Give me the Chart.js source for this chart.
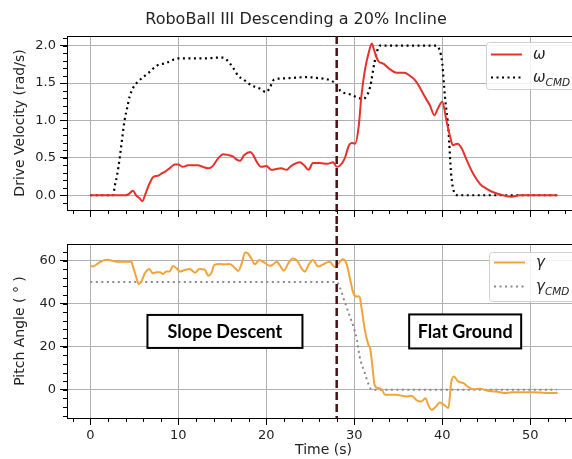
<!DOCTYPE html>
<html>
<head>
<meta charset="utf-8">
<script src="https://cdn.jsdelivr.net/npm/chart.js@4"></script>
<style>
html, body { margin: 0; padding: 0; background: #fff; overflow: hidden; width: 572px; height: 459px; }
canvas { position: absolute; left: 0; }
#velChart { top: 0; }
#pitchChart { top: 226px; }
</style>
</head>
<body>
<canvas id="velChart" width="580" height="226"></canvas>
<canvas id="pitchChart" width="580" height="233"></canvas>
<script>
// Data
const omegaT = [0, 3.9, 4.3, 4.85, 5.2, 5.6, 5.9, 6.3, 6.74, 7.2, 7.7, 8.07, 8.56, 9.0, 9.6, 10, 10.5, 11.1, 11.7, 12.2,
    12.8, 13.4, 13.9, 14.5, 15.1, 15.6, 16.2, 16.6, 17.0, 17.5, 18.2, 18.5, 18.9, 19.4, 20.0, 20.6, 21.1, 21.7, 22.3, 22.8,
    23.8, 24.3, 24.8, 25.3, 26.1, 26.9, 27.6, 28.0, 28.4, 28.9, 29.4, 29.7, 30.1, 30.5, 30.8, 31.2, 31.6, 32.0, 32.2, 32.7,
    33.3, 34.0, 34.8, 35.7, 36.3, 36.9, 37.4, 38.0, 38.6, 39.1, 39.5, 40.0, 40.5, 40.9, 41.2, 41.7, 42.2, 42.7, 43.5, 44.3,
    45.0, 45.8, 46.9, 47.9, 48.8, 50.3, 53.1];
const omegaV = [0, 0, 0.01, 0.06, 0.0, -0.04, -0.08, 0.03, 0.16, 0.25, 0.26, 0.29, 0.32, 0.36, 0.41, 0.41, 0.38, 0.40, 0.40, 0.40,
    0.38, 0.36, 0.39, 0.49, 0.55, 0.54, 0.52, 0.48, 0.46, 0.54, 0.58, 0.54, 0.45, 0.38, 0.39, 0.34, 0.35, 0.36, 0.34, 0.39,
    0.44, 0.40, 0.34, 0.43, 0.43, 0.42, 0.44, 0.38, 0.40, 0.49, 0.67, 0.70, 0.69, 0.92, 1.32, 1.67, 1.89, 2.03, 1.96, 1.80,
    1.76, 1.69, 1.64, 1.64, 1.60, 1.54, 1.45, 1.32, 1.20, 1.07, 1.16, 1.25, 0.98, 0.78, 0.67, 0.69, 0.63, 0.49, 0.29, 0.15,
    0.09, 0.04, 0, -0.02, 0, 0, 0];
const omegaCmdT = [0, 2.6, 2.77, 3.03, 3.33, 3.64, 3.9, 4.17, 4.47, 4.92, 5.42, 6.0, 6.74, 7.5, 8.64, 10, 11.7, 13.2, 14.3, 15.1,
    15.6, 16.2, 16.8, 17.5, 18.3, 19.2, 20.0, 20.4, 20.9, 21.5, 23.0, 24.5, 25.7, 27.2, 27.9, 28.4, 29.5, 31.0, 31.8, 32.3,
    32.9, 35.2, 39.3, 39.7, 40.0, 40.3, 40.7, 41.0, 41.4, 41.8, 53.1];
const omegaCmdV = [0, 0, 0.12, 0.26, 0.49, 0.78, 1.01, 1.16, 1.32, 1.45, 1.52, 1.58, 1.65, 1.73, 1.77, 1.83, 1.83, 1.83, 1.84, 1.84,
    1.80, 1.71, 1.60, 1.54, 1.47, 1.43, 1.38, 1.44, 1.55, 1.56, 1.57, 1.58, 1.57, 1.54, 1.49, 1.40, 1.35, 1.29, 1.45, 1.78,
    2.0, 2.0, 2.0, 1.94, 1.76, 1.32, 0.87, 0.29, 0.03, 0, 0];
const gammaT = [0, 0.3, 0.87, 1.44, 2.0, 2.6, 3.1, 3.7, 4.3, 4.66, 4.85, 5.2, 5.5, 5.8, 6.2, 6.7, 7.1, 7.5, 7.9, 8.3,
    8.6, 9.0, 9.4, 9.8, 10.2, 10.7, 11.3, 11.9, 12.4, 13.0, 13.4, 13.75, 14.1, 14.7, 15.3, 15.8, 16.2, 16.8, 17.2, 17.6,
    17.9, 18.3, 18.7, 19.2, 19.8, 20.4, 20.8, 21.2, 21.5, 22.0, 22.5, 23.0, 23.5, 24.0, 24.4, 24.8, 25.3, 25.9, 26.5, 27.2,
    27.8, 28.2, 28.7, 29.1, 29.5, 29.9, 30.3, 30.6, 30.8, 31.2, 31.6, 31.8, 32.1, 32.3, 32.7, 33.1, 33.5, 34.0, 34.8, 35.4,
    35.9, 36.5, 37.1, 37.6, 38.1, 38.4, 38.8, 39.3, 39.7, 40.3, 40.7, 41.0, 41.3, 41.8, 42.4, 42.9, 43.5, 44.3, 45.0, 46.1,
    47.3, 48.0, 49.2, 50.3, 51.8, 53.1];
const gammaV = [57.6, 57.2, 58.7, 60, 60.4, 59.8, 59.4, 59.4, 59.4, 59.5, 57.2, 52.5, 49.1, 50.2, 54.1, 56.1, 54.1, 54.6, 54.6, 53.8,
    54.9, 54.9, 57.5, 56.4, 54.9, 55.6, 56.1, 54.4, 56.1, 55.9, 53.0, 54.1, 58.0, 58.4, 58.3, 58.4, 57.5, 55.2, 58.7, 63.8,
    63.4, 61.0, 58.3, 60.3, 59.0, 57.6, 58.3, 59.5, 58.0, 55.3, 58.7, 61.0, 60.0, 56.4, 54.9, 58.0, 60.3, 57.2, 58.3, 59.5,
    56.9, 58.7, 60.6, 58.7, 51.8, 44.8, 43.3, 43.3, 38.6, 27.8, 20.9, 19.3, 9.3, 2.3, 0.8, 0.3, -2.3, -2.3, -2.3, -2.8,
    -3.1, -2.8, -4.9, -5.4, -3.9, -7.0, -9.3, -7.7, -5.9, -7.3, -8.5, 3.1, 6.2, 3.9, 3.1, 1.5, 0.3, 0.5, -0.3, -0.8,
    -1.5, -1.1, -1.2, -1.1, -1.5, -1.5];
const gammaCmdT = [0, 28.0, 28.4, 28.9, 29.5, 29.9, 30.3, 30.6, 31.2, 31.6, 32.0, 53.0];
const gammaCmdV = [50, 50, 47.1, 41, 34, 29.4, 23.2, 15.5, 7.7, 2.8, 0, 0];

const xTicks = [0, 10, 20, 30, 40, 50];
const velTicks = [0, 0.5, 1.0, 1.5, 2.0];
const pitchTicks = [0, 20, 40, 60];
const transitionT = 28;
const titleText = 'RoboBall III Descending a 20% Incline';

const FONT = "'DejaVu Sans', sans-serif";
Chart.defaults.font.family = FONT;
Chart.defaults.font.size = 13;
Chart.defaults.color = '#222';
Chart.defaults.animation = false;

const pts = (t, v) => t.map((x, i) => ({ x, y: v[i] }));

// Frame around plot area (matplotlib spines)
const frame = {
    id: 'frame',
    afterDatasetsDraw(chart) {
        const { ctx, chartArea: a } = chart;
        ctx.save();
        ctx.strokeStyle = '#000'; ctx.lineWidth = 1;
        ctx.strokeRect(Math.round(a.left) + 0.5, Math.round(a.top) + 0.5, Math.round(a.right - a.left), Math.round(a.bottom - a.top));
        ctx.restore();
    }
};

// Minor ticks
const minorTicks = {
    id: 'minorTicks',
    afterDraw(chart, args, o) {
        const { ctx, chartArea: a, scales: { x, y } } = chart;
        ctx.save();
        ctx.strokeStyle = '#000'; ctx.lineWidth = 1;
        ctx.beginPath();
        for (let i = Math.ceil(x.min / o.x); i * o.x <= x.max; i++) {
            const px = Math.round(x.getPixelForValue(i * o.x)) + 0.5;
            ctx.moveTo(px, a.bottom); ctx.lineTo(px, a.bottom + 4);
        }
        for (let i = Math.ceil(y.min / o.y); i * o.y <= y.max; i++) {
            const py = Math.round(y.getPixelForValue(i * o.y)) + 0.5;
            ctx.moveTo(a.left, py); ctx.lineTo(a.left - 4, py);
        }
        ctx.stroke();
        ctx.restore();
    }
};

// Transition marker
const transition = {
    id: 'transition',
    afterDatasetsDraw(chart, args, o) {
        const { ctx, chartArea: a, scales: { x } } = chart;
        const px = x.getPixelForValue(transitionT);
        ctx.save();
        ctx.strokeStyle = '#4a1212'; ctx.lineWidth = 2.5;
        ctx.setLineDash([8, 4]);
        ctx.lineDashOffset = o.dashOffset || 0;
        ctx.beginPath();
        ctx.moveTo(px, o.top === 'canvas' ? 0 : a.top);
        ctx.lineTo(px, o.bottom === 'canvas' ? chart.height : a.bottom);
        ctx.stroke();
        ctx.restore();
    }
};

// Legend with subscripts
const subLegend = {
    id: 'subLegend',
    afterDraw(chart, args, o) {
        const { ctx } = chart;
        const b = o.box;
        ctx.save();
        ctx.fillStyle = 'rgba(255,255,255,0.85)';
        ctx.strokeStyle = '#d0d0d0'; ctx.lineWidth = 1;
        ctx.beginPath();
        ctx.roundRect(b.x + 0.5, b.y + 0.5, b.w, b.h, 3);
        ctx.fill(); ctx.stroke();
        o.items.forEach(it => {
            ctx.strokeStyle = it.color; ctx.lineWidth = it.width;
            ctx.setLineDash(it.dash || []);
            ctx.beginPath();
            ctx.moveTo(b.x + 5, it.y); ctx.lineTo(b.x + 36, it.y);
            ctx.stroke();
            ctx.setLineDash([]);
            ctx.fillStyle = '#222';
            ctx.textBaseline = 'alphabetic';
            ctx.font = "italic 15px 'DejaVu Sans'";
            ctx.fillText(it.label, b.x + 47, it.y + 4);
            if (it.sub) {
                const w = ctx.measureText(it.label).width;
                ctx.font = "italic 10.5px 'DejaVu Sans'";
                ctx.fillText(it.sub, b.x + 47 + w, it.y + 8);
            }
        });
        ctx.restore();
    }
};

// Title drawn on the top panel
const figTitle = {
    id: 'figTitle',
    afterDraw(chart) {
        const { ctx } = chart;
        ctx.save();
        ctx.font = "16px 'DejaVu Sans'";
        ctx.fillStyle = '#222';
        ctx.textAlign = 'center'; ctx.textBaseline = 'middle';
        ctx.fillText(titleText, 296, 20);
        ctx.restore();
    }
};

// Region labels in boxes
const regionLabels = {
    id: 'regionLabels',
    afterDraw(chart, args, o) {
        const { ctx, scales: { x, y } } = chart;
        ctx.save();
        ctx.font = "bold 18px Lato, 'Open Sans', sans-serif";
        ctx.textAlign = 'center'; ctx.textBaseline = 'middle';
        o.items.forEach(it => {
            const cx = x.getPixelForValue(it.t), cy = y.getPixelForValue(it.v);
            ctx.fillStyle = '#fff';
            ctx.fillRect(cx - it.w / 2, cy - it.h / 2, it.w, it.h);
            ctx.strokeStyle = '#000'; ctx.lineWidth = 2;
            ctx.strokeRect(cx - it.w / 2, cy - it.h / 2, it.w, it.h);
            ctx.fillStyle = '#000';
            ctx.fillText(it.text, cx, cy + 1);
        });
        ctx.restore();
    }
};

function xScale(showLabels, height) {
    return {
        type: 'linear', min: -2.65, max: 55.65,
        afterBuildTicks: s => { s.ticks = xTicks.map(v => ({ value: v })); },
        afterFit: s => { s.height = height; },
        grid: { color: '#b0b0b0', lineWidth: 1, tickColor: '#000', tickLength: 7 },
        border: { display: false },
        ticks: { display: showLabels, padding: 3, maxRotation: 0, color: '#222' },
        title: { display: showLabels, text: 'Time (s)', font: { size: 14 }, padding: { top: 0, bottom: 0 }, color: '#222' }
    };
}

function yScale(min, max, ticks, label, fmt) {
    return {
        type: 'linear', min, max,
        afterBuildTicks: s => { s.ticks = ticks.map(v => ({ value: v })); },
        afterFit: s => { s.width = 67; },
        grid: { color: '#b0b0b0', lineWidth: 1, tickColor: '#000', tickLength: 7 },
        border: { display: false },
        ticks: { padding: 4, color: '#222', callback: fmt },
        title: { display: true, text: label, font: { size: 14 }, padding: { top: 12, bottom: 0 }, color: '#222' }
    };
}

new Chart(document.getElementById('velChart'), {
    type: 'line',
    data: {
        datasets: [
            { label: 'ω', data: pts(omegaT, omegaV), borderColor: '#e8302a', borderWidth: 2, pointRadius: 0, cubicInterpolationMode: 'monotone' },
            { label: 'ωCMD', data: pts(omegaCmdT, omegaCmdV), borderColor: '#000', borderWidth: 2.2, borderDash: [2, 3.5], pointRadius: 0, cubicInterpolationMode: 'monotone' }
        ]
    },
    options: {
        responsive: false,
        layout: { padding: { top: 36, left: 0, right: 0, bottom: 0 } },
        scales: {
            x: xScale(false, 16),
            y: yScale(-0.197, 2.13, velTicks, 'Drive Velocity (rad/s)', v => v.toFixed(1))
        },
        plugins: {
            legend: { display: false }, tooltip: { enabled: false },
            minorTicks: { x: 2, y: 0.1 },
            transition: { bottom: 'canvas' },
            subLegend: {
                box: { x: 486, y: 42, w: 120, h: 47 },
                items: [
                    { label: 'ω', color: '#e8302a', width: 2, y: 54.5 },
                    { label: 'ω', sub: 'CMD', color: '#000', width: 2.2, dash: [2, 3.5], y: 77.5 }
                ]
            }
        }
    },
    plugins: [frame, minorTicks, transition, subLegend, figTitle]
});

new Chart(document.getElementById('pitchChart'), {
    type: 'line',
    data: {
        datasets: [
            { label: 'γ', data: pts(gammaT, gammaV), borderColor: '#f2a43a', borderWidth: 2, pointRadius: 0, cubicInterpolationMode: 'monotone' },
            { label: 'γCMD', data: pts(gammaCmdT, gammaCmdV), borderColor: '#8a8a8a', borderWidth: 2, borderDash: [2, 3.5], pointRadius: 0, cubicInterpolationMode: 'monotone' }
        ]
    },
    options: {
        responsive: false,
        layout: { padding: { top: 18, left: 0, right: 0, bottom: 0 } },
        scales: {
            x: xScale(true, 41),
            y: yScale(-13.1, 67.7, pitchTicks, 'Pitch Angle ( ° )', v => String(v))
        },
        plugins: {
            legend: { display: false }, tooltip: { enabled: false },
            minorTicks: { x: 2, y: 4 },
            transition: { top: 'canvas', dashOffset: 2 },
            regionLabels: {
                items: [
                    { text: 'Slope Descent', t: 15.3, v: 27.1, w: 155, h: 33 },
                    { text: 'Flat Ground', t: 42.6, v: 27.1, w: 112, h: 34 }
                ]
            },
            subLegend: {
                box: { x: 489, y: 26, w: 120, h: 49 },
                items: [
                    { label: 'γ', color: '#f2a43a', width: 2, y: 36.5 },
                    { label: 'γ', sub: 'CMD', color: '#8a8a8a', width: 2, dash: [2, 3.5], y: 60.5 }
                ]
            }
        }
    },
    plugins: [frame, minorTicks, transition, regionLabels, subLegend]
});
</script>
</body>
</html>
